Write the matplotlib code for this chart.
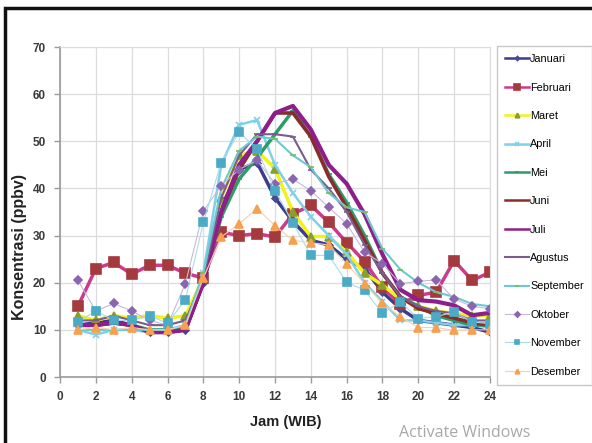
import numpy as np
import matplotlib
matplotlib.use('Agg')
import matplotlib.pyplot as plt
from matplotlib.patches import Rectangle

plt.rcParams['font.family'] = ['Liberation Sans', 'DejaVu Sans']

# jam pengamatan 1..24
jam = list(range(1, 25))

januari = [11, 11.5, 12, 11, 9.5, 9.5, 10, 20, 36, 44, 45.5, 38, 33, 29, 28, 25, 23, 18, 14.5, 12, 11.5, 11, 10.5, 9.5]
februari = [15, 23, 24.3, 21.8, 23.7, 23.7, 22, 21, 30.7, 30, 30.4, 29.7, 34.6, 36.4, 32.8, 28.5, 24.5, 19, 15.5, 17.3, 18, 24.7, 20.5, 22.2]
maret = [13, 12, 13, 12.5, 13, 12.5, 13, 21, 38, 47, 48, 44.2, 35, 29.8, 29.8, 26.5, 22, 19.5, 16.5, 15, 14, 13.5, 13, 13]
april = [10, 9, 10, 10, 9.5, 10, 11, 22, 45, 53.5, 54.5, 45, 39, 34, 30, 26, 20, 16, 12, 12, 11.5, 11, 11, 10.5]
mei = [11, 11, 11.5, 11, 10, 10, 10.5, 20, 34, 42, 46.5, 51.5, 56.5, 51, 43, 37, 30, 22, 17, 15, 13, 12, 11, 11]
juni = [11, 11, 11.5, 11, 9.5, 9.5, 10, 20, 35, 44, 50, 56, 56, 51, 42.5, 36, 29, 22, 17, 14.5, 13.5, 12.5, 11.5, 11]
juli = [11, 11, 11.5, 11, 9.5, 9.5, 10, 20, 35, 45, 50, 56, 57.5, 52.5, 45, 41, 34.5, 26, 18.5, 16.3, 16, 15.2, 13.1, 13.6]
agustus = [12, 12, 13, 12, 11, 11, 12, 21, 38, 47, 51.5, 51.5, 51, 44, 40, 35, 28, 22, 17, 15, 14, 13.5, 12, 12]
september = [10, 10, 10, 10, 10, 10, 11, 22, 40, 48, 51, 50.5, 47, 44.5, 39, 36, 35, 27.2, 22.8, 20, 18, 17, 15.5, 15]
oktober = [20.5, 14, 15.6, 14, 12, 11, 19.8, 35.2, 40.6, 44, 46, 41, 42, 39.5, 36, 32.5, 26.5, 24, 19.8, 20.3, 20.6, 16.5, 15, 14.5]
november = [11.7, 14, 12, 12, 13, 11.4, 16.4, 32.8, 45.5, 51.9, 48.4, 39.5, 32.7, 25.8, 25.8, 20.1, 18.4, 13.5, 15.9, 12.4, 12.8, 13.8, 11.7, 11.3]
desember = [10, 10.5, 10, 10.5, 10, 10, 11, 21, 29.7, 32.5, 35.7, 32.1, 29, 28.5, 28, 24, 19.8, 15.6, 12.8, 10.5, 10.5, 9.9, 10, 10]

bulan = ['Januari', 'Februari', 'Maret', 'April', 'Mei', 'Juni', 'Juli',
         'Agustus', 'September', 'Oktober', 'November', 'Desember']
nilai = [januari, februari, maret, april, mei, juni, juli,
         agustus, september, oktober, november, desember]

# (warna garis, marker, warna marker, tebal garis, ukuran marker)
gaya = [
    ('#3C3C8C', 'D', '#4A4A90', 2.5, 3.5),
    ('#CC3A8E', 's', '#A53A3E', 2.5, 7.5),
    ('#F2F21A', '^', '#8A9E2E', 2.5, 5.5),
    ('#7FD0E8', 'x', '#7FD0E8', 1.8, 5),
    ('#2F9B6A', '_', '#2F9B6A', 2.5, 4),
    ('#8A2C2C', '', '#8A2C2C', 2.6, 0),
    ('#8E1E8A', '', '#8E1E8A', 3.0, 0),
    ('#7A5C8E', '_', '#7A5C8E', 1.5, 4),
    ('#6CC9D2', '_', '#7BBA5A', 1.5, 4),
    ('#C8B8DC', 'D', '#8A66B0', 0.8, 4.5),
    ('#A8DCE8', 's', '#4BAAC6', 0.8, 6),
    ('#F8D0A8', '^', '#F7A050', 0.8, 5.5),
]

fig = plt.figure(figsize=(5.92, 4.43), dpi=100)
ax = fig.add_axes([60 / 592, 1 - 377 / 443, 430 / 592, 330 / 443])

for nama, y, (lc, mk, mc, lw, ms) in zip(bulan, nilai, gaya):
    ax.plot(jam, y, color=lc, lw=lw, marker=mk if mk else None,
            markersize=ms, markerfacecolor=mc, markeredgecolor=mc,
            markeredgewidth=1.2, label=nama)

ax.set_xlim(0, 24)
ax.set_ylim(0, 70)
ax.set_xticks(range(0, 25, 2))
ax.set_yticks(range(0, 71, 10))
ax.grid(True, color='#DCDCDC', lw=0.9)
ax.set_axisbelow(True)
for s in ['top', 'right']:
    ax.spines[s].set_color('#DCDCDC')
for s in ['left', 'bottom']:
    ax.spines[s].set_color('#9A9A9A')
    ax.spines[s].set_linewidth(1.2)
ax.tick_params(length=4, width=1, color='#9A9A9A', labelsize=8.5, labelcolor='#3A3A3A', pad=6)
for t in ax.get_xticklabels() + ax.get_yticklabels():
    t.set_fontweight('bold')

ax.set_xlabel('Jam (WIB)', fontsize=10.5, fontweight='bold', color='#222222')
ax.xaxis.set_label_coords((286 - 60) / 430, -(415 - 377) / 330)
ax.set_ylabel('Konsentrasi (ppbv)', fontsize=11.5, fontweight='bold', color='#222222')
ax.yaxis.set_label_coords(-(60 - 27) / 430, (377 - 247) / 330)

leg = fig.legend(loc='upper left', bbox_to_anchor=(497 / 592, 1 - 46 / 443),
                 frameon=True, fancybox=False, labelspacing=1.7,
                 handlelength=2.2, handletextpad=0.1, borderpad=0.75,
                 borderaxespad=0, markerscale=0.6,
                 prop={'size': 7.8})
leg.get_frame().set_edgecolor('#BBBBBB')
leg.get_frame().set_linewidth(1.0)
for h in leg.get_lines():
    h.set_linewidth(min(h.get_linewidth(), 1.8))

# bingkai luar
fig.add_artist(Rectangle((5 / 592, -0.05), 1.0, 1 - 8 / 443 + 0.05,
                         transform=fig.transFigure, fill=False,
                         edgecolor='#111111', lw=2.5))

fig.text(465 / 592, 1 - 433 / 443, 'Activate Windows', ha='center', va='center',
         fontsize=11.5, color='#A8A8A8', family=['Open Sans', 'DejaVu Sans'])

fig.savefig('out.png', dpi=100)
